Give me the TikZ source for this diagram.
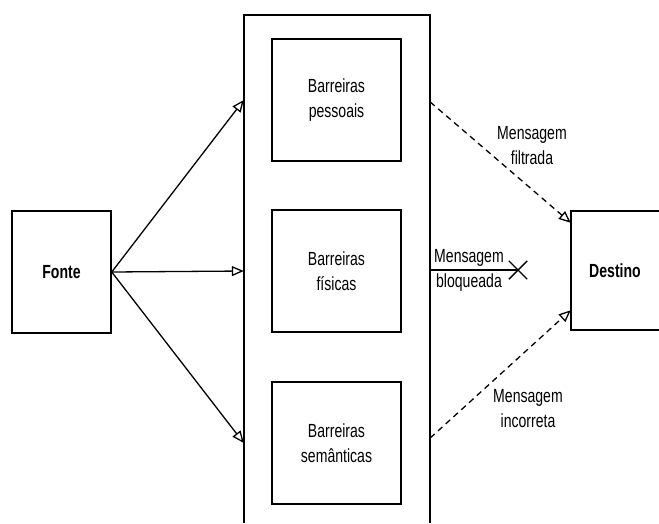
\documentclass[tikz,border=0pt]{standalone}
\usepackage{fontspec}
\setmainfont{Liberation Sans}[FakeStretch=0.74]
\usetikzlibrary{arrows.meta,shapes.misc,calc}
\begin{document}
\begin{tikzpicture}[x=1pt,y=-1pt,
  every node/.style={font=\fontsize{19}{25}\selectfont, align=center, inner sep=0pt},
  boxed/.style={draw, line width=1.5pt, minimum width=129pt, minimum height=122pt},
  bold/.style={font=\fontsize{19}{25}\selectfont\bfseries},
  solidarrow/.style={line width=1.3pt, -{Triangle[open, length=12pt, width=10pt, line width=1.3pt]}},
  dasharrow/.style={line width=1.3pt, dash pattern=on 6pt off 4.5pt, -{Triangle[open, length=12pt, width=10pt, line width=1.3pt]}},
  edge3/.style={line width=1.5pt}]
\useasboundingbox (0,0) rectangle (659,523);
% source
\node[boxed, bold, minimum width=99pt] (fonte) at (61.5,272) {Fonte};
% container (cut by the page bottom)
\node[minimum width=186pt, minimum height=508pt] (cont) at (337,269) {};
\draw[edge3] (cont.south west) -- (cont.north west) -- (cont.north east) -- (cont.south east);
% barriers
\node[boxed] (b1) at (336.5,100) {Barreiras\\pessoais};
\node[boxed] (b2) at (336.5,271) {Barreiras\\físicas};
\node[boxed] (b3) at (336.5,443) {Barreiras\\semânticas};
% destination (cut by the page right edge)
\node[bold, minimum width=88pt, minimum height=119pt] (dest) at (615,270.5) {Destino};
\draw[edge3] (dest.north east) -- (dest.north west) -- (dest.south west) -- (dest.south east);
% arrows from source
\draw[solidarrow] (fonte.east) -- (cont.west |- b1);
\draw[solidarrow] (fonte.east) -- (cont.west |- b2);
\draw[solidarrow] (fonte.east) -- (cont.west |- b3);
% dashed messages
\coordinate (d1) at ($(dest.north west)+(0,12)$);
\coordinate (d3) at ($(dest.south west)+(0,-20)$);
\draw[dasharrow] ($(cont.east |- b1)+(0,2)$) -- (d1);
\draw[dasharrow] ($(cont.east |- b3)+(0,-5)$) -- (d3);
% blocked message
\node[draw, cross out, line width=1.4pt, minimum size=17pt] (xm) at (518,270) {};
\draw[line width=1.3pt] (cont.east |- xm) -- (xm.center);
% labels
\node (lf) at (532,146) {Mensagem\\filtrada};
\node (lb) at (469,270) {Mensagem\\bloqueada};
\node (li) at (528,409) {Mensagem\\incorreta};
\end{tikzpicture}
\end{document}
